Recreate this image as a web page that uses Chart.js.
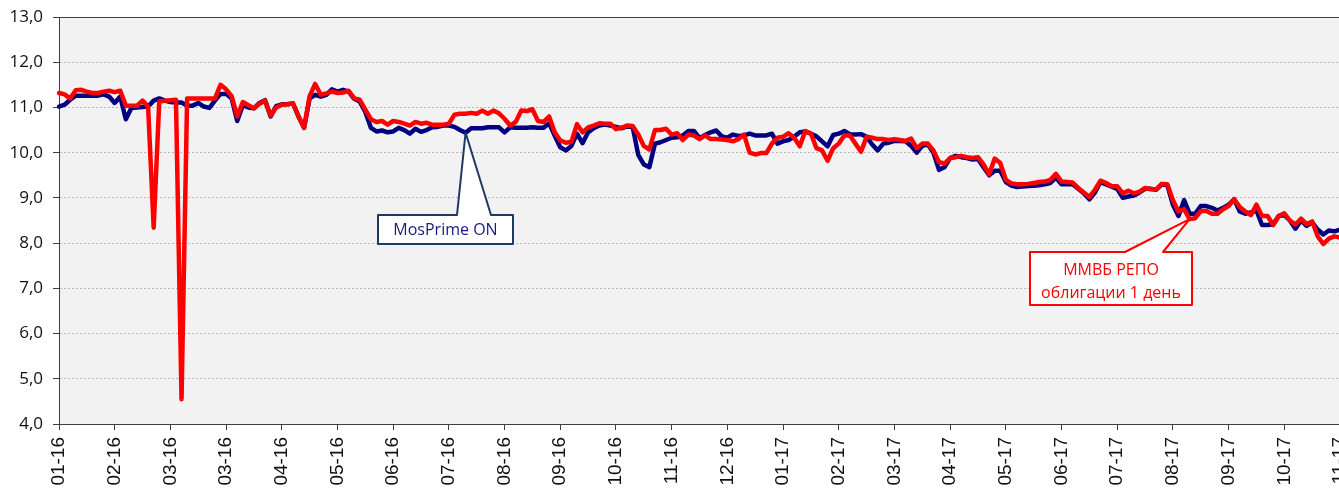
<!DOCTYPE html>
<html lang="ru">
<head>
<meta charset="utf-8">
<title>MosPrime ON и ММВБ РЕПО</title>
<script src="https://cdn.jsdelivr.net/npm/chart.js@4.4.1/dist/chart.umd.min.js"></script>
<style>
  html, body { margin: 0; padding: 0; background: #fff; overflow: hidden; }
  #wrap { position: absolute; left: 0; top: 0; }
</style>
</head>
<body>
<div id="wrap"><canvas id="stavkiChart" width="1352" height="530"></canvas></div>
<script>
// подписи оси X (каждые 10 точек, точка = 2 торговых дня)
const tickLabels = ["01-16", "02-16", "03-16", "03-16", "04-16", "05-16", "06-16", "07-16",
  "08-16", "09-16", "10-16", "11-16", "12-16", "01-17", "02-17", "03-17", "04-17", "05-17",
  "06-17", "07-17", "08-17", "09-17", "10-17", "11-17"];

const yTicks = { min: 4, max: 13, step: 1 };

// MosPrime ON, %
const mosPrime = [
  11.02, 11.06, 11.17, 11.26, 11.26, 11.26, 11.26, 11.26, 11.29, 11.24,
  11.10, 11.24, 10.74, 10.99, 11.00, 11.01, 11.02, 11.15, 11.20, 11.15,
  11.12, 11.11, 11.11, 11.04, 11.04, 11.10, 11.02, 10.99, 11.15, 11.30,
  11.30, 11.20, 10.70, 11.05, 11.00, 10.98, 11.10, 11.16, 10.80, 11.03,
  11.07, 11.07, 11.09, 10.80, 10.55, 11.20, 11.28, 11.24, 11.28, 11.40,
  11.35, 11.39, 11.35, 11.19, 11.13, 10.90, 10.55, 10.47, 10.49, 10.45,
  10.47, 10.55, 10.50, 10.42, 10.53, 10.46, 10.50, 10.56, 10.57, 10.60,
  10.60, 10.57, 10.50, 10.44, 10.54, 10.54, 10.54, 10.56, 10.56, 10.56,
  10.45, 10.56, 10.55, 10.55, 10.55, 10.56, 10.55, 10.55, 10.65, 10.38,
  10.12, 10.05, 10.15, 10.42, 10.21, 10.45, 10.54, 10.60, 10.62, 10.60,
  10.57, 10.54, 10.58, 10.57, 9.95, 9.74, 9.68, 10.20, 10.23, 10.28,
  10.33, 10.34, 10.38, 10.48, 10.48, 10.32, 10.39, 10.45, 10.49, 10.36,
  10.33, 10.40, 10.37, 10.38, 10.42, 10.38, 10.38, 10.38, 10.42, 10.20,
  10.25, 10.28, 10.35, 10.45, 10.47, 10.42, 10.36, 10.25, 10.14, 10.39,
  10.42, 10.48, 10.41, 10.40, 10.41, 10.35, 10.18, 10.05, 10.20, 10.22,
  10.26, 10.26, 10.25, 10.15, 10.00, 10.15, 10.18, 10.00, 9.62, 9.68,
  9.88, 9.93, 9.90, 9.88, 9.85, 9.86, 9.68, 9.50, 9.60, 9.60,
  9.35, 9.27, 9.24, 9.25, 9.26, 9.27, 9.28, 9.30, 9.33, 9.45,
  9.30, 9.30, 9.30, 9.20, 9.10, 8.97, 9.12, 9.35, 9.30, 9.25,
  9.20, 9.00, 9.03, 9.05, 9.12, 9.20, 9.20, 9.18, 9.30, 9.28,
  8.85, 8.60, 8.95, 8.65, 8.65, 8.82, 8.82, 8.78, 8.72, 8.78,
  8.85, 8.97, 8.70, 8.65, 8.68, 8.72, 8.40, 8.40, 8.41, 8.60,
  8.62, 8.50, 8.32, 8.50, 8.38, 8.46, 8.30, 8.19, 8.28, 8.26, 8.30
];

// ММВБ РЕПО облигации 1 день, %
const repoMmvb = [
  11.32, 11.29, 11.20, 11.38, 11.39, 11.35, 11.32, 11.32, 11.35, 11.37,
  11.34, 11.37, 11.04, 11.04, 11.04, 11.15, 11.02, 8.34, 11.13, 11.15,
  11.16, 11.17, 4.55, 11.20, 11.20, 11.20, 11.20, 11.20, 11.20, 11.50,
  11.40, 11.25, 10.80, 11.12, 11.05, 10.98, 11.08, 11.15, 10.82, 11.00,
  11.06, 11.07, 11.09, 10.80, 10.55, 11.25, 11.52, 11.28, 11.31, 11.35,
  11.32, 11.33, 11.37, 11.20, 11.17, 10.95, 10.74, 10.68, 10.70, 10.62,
  10.70, 10.68, 10.64, 10.60, 10.68, 10.64, 10.66, 10.62, 10.62, 10.62,
  10.64, 10.84, 10.86, 10.86, 10.88, 10.86, 10.93, 10.86, 10.93, 10.87,
  10.75, 10.60, 10.68, 10.93, 10.92, 10.96, 10.70, 10.68, 10.80, 10.45,
  10.27, 10.22, 10.24, 10.63, 10.45, 10.56, 10.60, 10.65, 10.64, 10.64,
  10.52, 10.55, 10.60, 10.59, 10.40, 10.15, 10.07, 10.50, 10.50, 10.53,
  10.40, 10.43, 10.28, 10.40, 10.38, 10.30, 10.38, 10.30, 10.30, 10.29,
  10.28, 10.25, 10.30, 10.40, 10.00, 9.96, 9.99, 9.99, 10.20, 10.33,
  10.35, 10.43, 10.33, 10.14, 10.48, 10.42, 10.10, 10.05, 9.82, 10.10,
  10.20, 10.38, 10.38, 10.20, 10.02, 10.35, 10.33, 10.30, 10.30, 10.28,
  10.30, 10.28, 10.26, 10.31, 10.10, 10.20, 10.20, 10.05, 9.79, 9.76,
  9.88, 9.90, 9.93, 9.90, 9.88, 9.90, 9.74, 9.52, 9.87, 9.77,
  9.40, 9.32, 9.30, 9.30, 9.31, 9.33, 9.35, 9.36, 9.40, 9.53,
  9.36, 9.35, 9.34, 9.22, 9.12, 9.02, 9.18, 9.38, 9.33, 9.26,
  9.26, 9.10, 9.16, 9.10, 9.14, 9.22, 9.19, 9.19, 9.31, 9.30,
  8.95, 8.70, 8.75, 8.53, 8.55, 8.71, 8.71, 8.65, 8.65, 8.75,
  8.82, 8.97, 8.80, 8.70, 8.62, 8.85, 8.60, 8.60, 8.40, 8.60,
  8.66, 8.50, 8.41, 8.54, 8.42, 8.48, 8.15, 7.98, 8.10, 8.15, 8.12
];

const categories = mosPrime.map((_, i) => (i % 10 === 0 ? tickLabels[i / 10] : ""));

// выноски: рамка в пикселях, остриё привязано к точке ряда
const callouts = [
  {
    lines: ["MosPrime ON"], textY: [230],
    box: { left: 378, top: 215, right: 513, bottom: 244, baseL: 457, baseR: 491 },
    series: mosPrime, index: 73, border: "#1f3864", color: "#1a1a80"
  },
  {
    lines: ["ММВБ РЕПО", "облигации 1 день"], textY: [270, 293],
    box: { left: 1030, top: 252, right: 1192, bottom: 305, baseL: 1125, baseR: 1163 },
    series: repoMmvb, index: 203, border: "#ff0000", color: "#ff0000"
  }
];

const ramkaPlugin = {
  id: "ramka",
  beforeDraw(chart) {
    const { ctx, chartArea: a } = chart;
    ctx.save();
    ctx.fillStyle = "#f2f2f2";
    ctx.fillRect(a.left, a.top, a.right - a.left, a.bottom - a.top);
    ctx.restore();
  },
  beforeDatasetsDraw(chart) {
    const { ctx, chartArea: a } = chart;
    ctx.save();
    ctx.strokeStyle = "#404040";
    ctx.lineWidth = 1;
    ctx.strokeRect(a.left + 0.5, a.top + 0.5, a.right - a.left, a.bottom - a.top);
    ctx.restore();
  },
  afterDatasetsDraw(chart) {
    const { ctx } = chart;
    const xs = chart.scales.x;
    const ys = chart.scales.y;
    callouts.forEach((c) => {
      const b = c.box;
      const tipX = xs.getPixelForValue(c.index);
      const tipY = ys.getPixelForValue(c.series[c.index]);
      ctx.save();
      ctx.beginPath();
      ctx.moveTo(b.left, b.top);
      ctx.lineTo(b.baseL, b.top);
      ctx.lineTo(tipX, tipY);
      ctx.lineTo(b.baseR, b.top);
      ctx.lineTo(b.right, b.top);
      ctx.lineTo(b.right, b.bottom);
      ctx.lineTo(b.left, b.bottom);
      ctx.closePath();
      ctx.fillStyle = "#ffffff";
      ctx.fill();
      ctx.lineWidth = 2;
      ctx.lineJoin = "round";
      ctx.strokeStyle = c.border;
      ctx.stroke();
      ctx.fillStyle = c.color;
      ctx.font = '16px "Open Sans"';
      ctx.textAlign = "center";
      ctx.textBaseline = "middle";
      c.lines.forEach((t, k) => ctx.fillText(t, (b.left + b.right) / 2, c.textY[k]));
      ctx.restore();
    });
  }
};

const ctx = document.getElementById("stavkiChart").getContext("2d");

new Chart(ctx, {
  type: "line",
  data: {
    labels: categories,
    datasets: [
      {
        label: "MosPrime ON",
        data: mosPrime,
        borderColor: "#000080",
        borderWidth: 4.5,
        order: 1
      },
      {
        label: "ММВБ РЕПО облигации 1 день",
        data: repoMmvb,
        borderColor: "#ff0000",
        borderWidth: 4.5,
        order: 0
      }
    ]
  },
  options: {
    responsive: false,
    animation: false,
    devicePixelRatio: 1,
    layout: { padding: { top: 17, right: 12, left: 0, bottom: 0 } },
    elements: {
      point: { radius: 0 },
      line: { tension: 0, borderJoinStyle: "round", borderCapStyle: "round" }
    },
    plugins: {
      legend: { display: false },
      tooltip: { enabled: false }
    },
    scales: {
      x: {
        type: "category",
        offset: false,
        grid: {
          drawOnChartArea: false,
          tickLength: 6,
          tickColor: (c) => (categories[c.index] ? "#404040" : "rgba(0,0,0,0)")
        },
        border: { color: "#404040", width: 1 },
        ticks: {
          autoSkip: false,
          minRotation: 90,
          maxRotation: 90,
          padding: 7,
          color: "#111111",
          font: { family: "Liberation Sans", size: 19 }
        },
        afterFit(scale) {
          scale.height = 106;
          scale.paddingLeft = 0;
          scale.paddingRight = 0;
        }
      },
      y: {
        min: yTicks.min,
        max: yTicks.max,
        grid: { color: "#b8b8b8", lineWidth: 1, tickLength: 6, tickColor: "#404040" },
        border: { color: "#404040", width: 1, dash: [2, 2] },
        ticks: {
          stepSize: yTicks.step,
          padding: 10,
          color: "#111111",
          font: { family: "Open Sans", size: 17 },
          callback: (v) => v.toFixed(1).replace(".", ",")
        },
        afterFit(scale) {
          scale.width = 59;
          scale.paddingTop = 0;
          scale.paddingBottom = 0;
        }
      }
    }
  },
  plugins: [ramkaPlugin]
});
</script>
</body>
</html>
